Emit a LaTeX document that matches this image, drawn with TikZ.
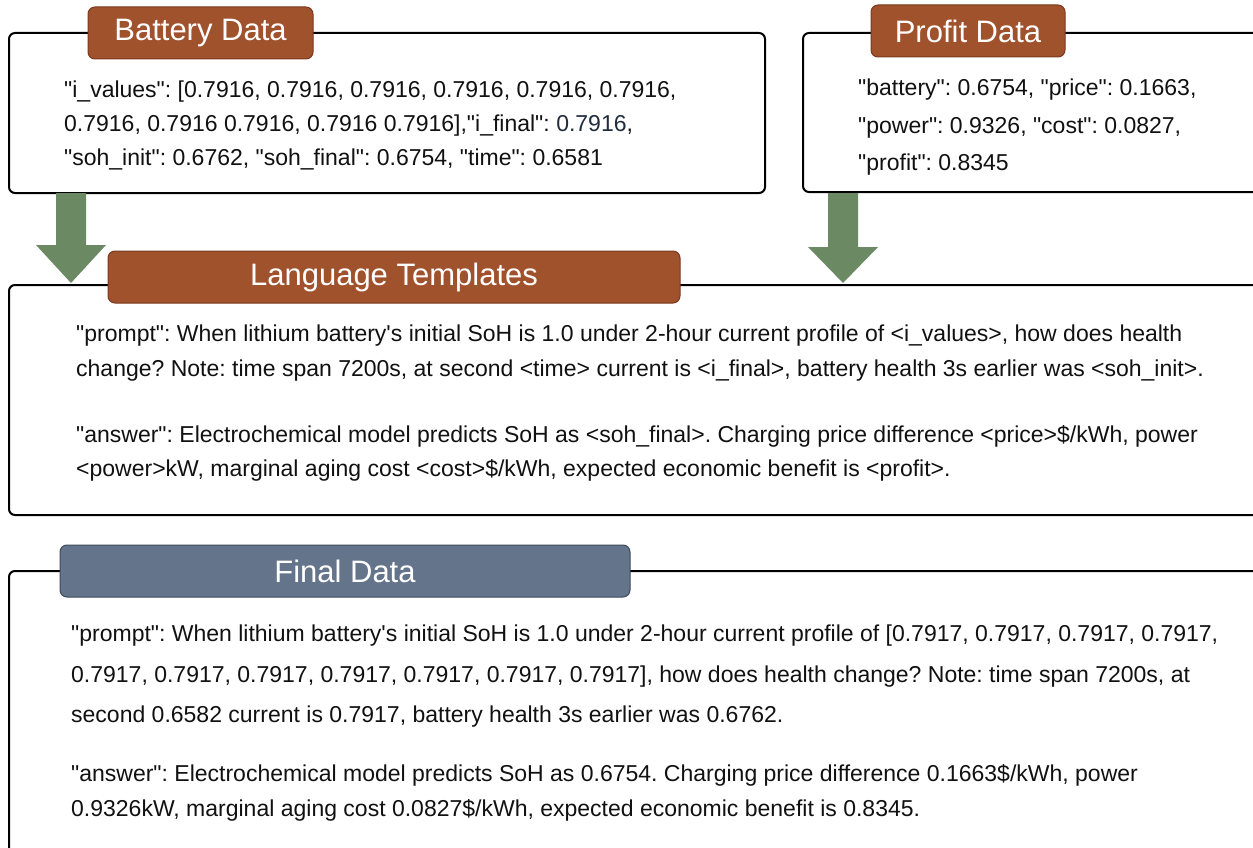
\documentclass[tikz,border=0pt]{standalone}
\usepackage{fontspec}
\setmainfont{Liberation Sans}[Ligatures=TeXOff]
\usetikzlibrary{fit}
\definecolor{tabbrown}{HTML}{A0522D}
\definecolor{tabbrownedge}{HTML}{7A3A1E}
\definecolor{tabslate}{HTML}{64748B}
\definecolor{tabslateedge}{HTML}{3F4B5C}
\definecolor{arrowgreen}{HTML}{6B8962}
\definecolor{txt}{HTML}{111111}
\definecolor{numblue}{HTML}{1F2D3D}
\tikzset{
  panel/.style={draw=black, line width=2pt, rounded corners=6pt, fill=white, inner sep=0pt},
  tabb/.style={draw=tabbrownedge, line width=1pt, fill=tabbrown, rounded corners=7pt, text=white,
    font=\fontsize{31}{36}\selectfont, minimum height=52pt, inner sep=0pt},
  tabs/.style={draw=tabslateedge, line width=1pt, fill=tabslate, rounded corners=7pt, text=white,
    font=\fontsize{31}{36}\selectfont, minimum height=52pt, inner sep=0pt},
  body/.style={anchor=north west, align=left, inner sep=0pt, text=txt},
  bigarrow/.style={fill=arrowgreen, draw=none},
}
\begin{document}
\frenchspacing
\begin{tikzpicture}[x=1pt,y=-1pt]
\useasboundingbox (0,0) rectangle (1253,848);
% panels
\node[panel, fit={(9,33) (765,193)}] (bat) {};
\node[panel, fit={(803,33) (1262,192)}] (pro) {};
\node[panel, fit={(9,285) (1262,515)}] (lang) {};
\node[panel, fit={(9,571) (1262,870)}] (fin) {};
% arrows
\coordinate (a1) at (71,193);
\coordinate (a2) at (843,193);
\fill[bigarrow] ([xshift=-15pt]a1) -- ([xshift=-15pt,yshift=-52pt]a1) -- ([xshift=-35pt,yshift=-52pt]a1)
  -- ([yshift=-90pt]a1) -- ([xshift=35pt,yshift=-52pt]a1) -- ([xshift=15pt,yshift=-52pt]a1) -- ([xshift=15pt]a1) -- cycle;
\fill[bigarrow] ([xshift=-15pt]a2) -- ([xshift=-15pt,yshift=-54pt]a2) -- ([xshift=-35pt,yshift=-54pt]a2)
  -- ([yshift=-90pt]a2) -- ([xshift=35pt,yshift=-54pt]a2) -- ([xshift=15pt,yshift=-54pt]a2) -- ([xshift=15pt]a2) -- cycle;
% tabs
\node[tabb, minimum width=225pt] (batt) at (200.5,33) {Battery Data};
\node[tabb, minimum width=194pt] (prot) at (968,31) {Profit Data};
\node[tabb, minimum width=572pt] (langt) at (394,277) {Language Templates};
\node[tabs, minimum width=570pt] (fint) at (345,571) {Final Data};
% texts
\node[body, font=\fontsize{23}{34}\selectfont] (battx) at (64,81)
{"i\_values": [0.7916, 0.7916, 0.7916, 0.7916, 0.7916, 0.7916,\\
0.7916, 0.7916 0.7916, 0.7916 0.7916],"i\_final": \textcolor{numblue}{0.7916},\\
"soh\_init": 0.6762, "soh\_final": 0.6754, "time": 0.6581};
\node[body, font=\fontsize{23}{37.5}\selectfont] (protx) at (858,79)
{"battery": 0.6754, "price": 0.1663,\\
"power": 0.9326, "cost": 0.0827,\\
"profit": 0.8345};
\node[body, font=\fontsize{23}{34.5}\selectfont] (langp) at (76,325)
{"prompt": When lithium battery's initial SoH is 1.0 under 2-hour current profile of <i\_values>, how does health\\
change? Note: time span 7200s, at second <time> current is <i\_final>, battery health 3s earlier was <soh\_init>.};
\node[body, font=\fontsize{23}{34.5}\selectfont] (langa) at (76,425)
{"answer": Electrochemical model predicts SoH as <soh\_final>. Charging price difference <price>\$/kWh, power\\
<power>kW, marginal aging cost <cost>\$/kWh, expected economic benefit is <profit>.};
\node[body, font=\fontsize{23}{40.5}\selectfont] (finp) at (71,625)
{"prompt": When lithium battery's initial SoH is 1.0 under 2-hour current profile of [0.7917, 0.7917, 0.7917, 0.7917,\\
0.7917, 0.7917, 0.7917, 0.7917, 0.7917, 0.7917, 0.7917], how does health change? Note: time span 7200s, at\\
second 0.6582 current is 0.7917, battery health 3s earlier was 0.6762.};
\node[body, font=\fontsize{23}{35}\selectfont] (fina) at (71,764)
{"answer": Electrochemical model predicts SoH as 0.6754. Charging price difference 0.1663\$/kWh, power\\
0.9326kW, marginal aging cost 0.0827\$/kWh, expected economic benefit is 0.8345.};
\end{tikzpicture}
\end{document}
